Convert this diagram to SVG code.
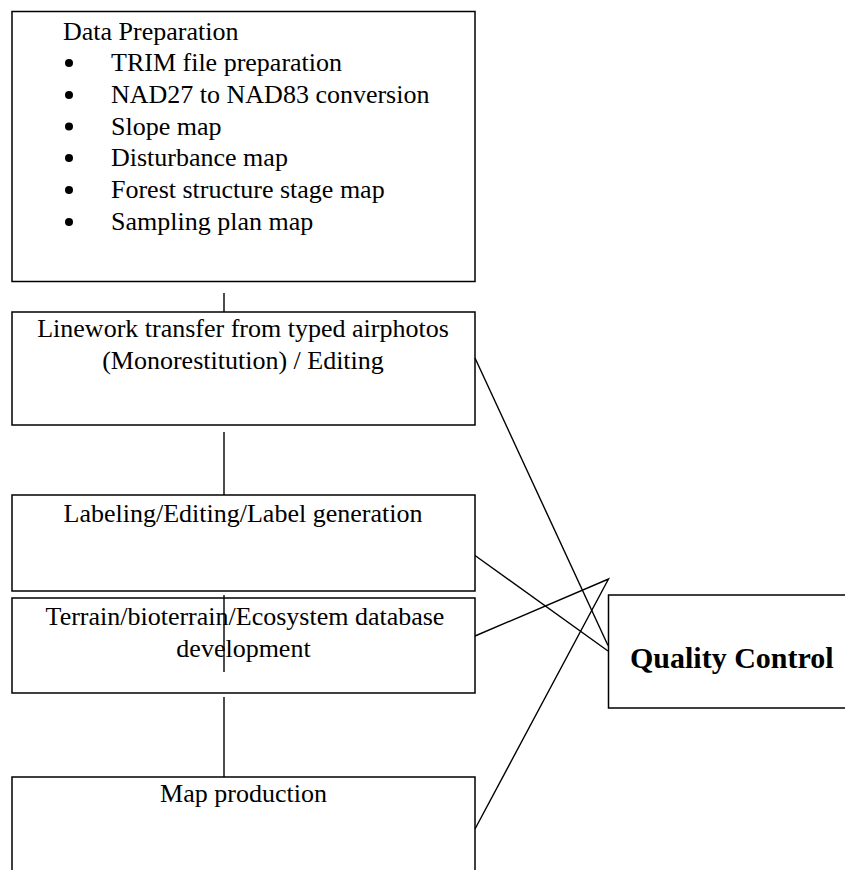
<svg xmlns="http://www.w3.org/2000/svg" width="845" height="870" viewBox="0 0 845 870">
<style>
.box{fill:#fff;stroke:#000;stroke-width:1.5}
.t{font-family:"Liberation Serif","Times New Roman",serif;font-size:26px;fill:#000}
.c{text-anchor:middle}
.b{font-weight:bold;font-size:30px}
.ln{stroke:#000;stroke-width:1.4;fill:none}
</style>
<rect width="845" height="870" fill="#fff"/>
<g id="data-preparation">
<rect class="box" x="12" y="11.5" width="463" height="270"/>
<text class="t" x="63" y="39.5">Data Preparation</text>
<g fill="#000">
<circle cx="69" cy="63" r="4"/>
<circle cx="69" cy="95" r="4"/>
<circle cx="69" cy="126.5" r="4"/>
<circle cx="69" cy="158" r="4"/>
<circle cx="69" cy="190" r="4"/>
<circle cx="69" cy="222" r="4"/>
</g>
<text class="t" x="111" y="71">TRIM file preparation</text>
<text class="t" x="111" y="103">NAD27 to NAD83 conversion</text>
<text class="t" x="111" y="134.5">Slope map</text>
<text class="t" x="111" y="166">Disturbance map</text>
<text class="t" x="111" y="198">Forest structure stage map</text>
<text class="t" x="111" y="230">Sampling plan map</text>
</g>
<g id="linework-transfer">
<rect class="box" x="12" y="312" width="463" height="113"/>
<text class="t c" x="243" y="337">Linework transfer from typed airphotos</text>
<text class="t c" x="243" y="368.5">(Monorestitution) / Editing</text>
</g>
<g id="labeling">
<rect class="box" x="12" y="495" width="463" height="96"/>
<text class="t c" x="243" y="522">Labeling/Editing/Label generation</text>
</g>
<g id="database">
<rect class="box" x="12" y="598" width="463" height="95"/>
<text class="t c" x="245" y="624.5">Terrain/bioterrain/Ecosystem database</text>
<text class="t c" x="243.5" y="657">development</text>
</g>
<g id="map-production">
<rect class="box" x="12" y="777" width="463" height="110"/>
<text class="t c" x="243.5" y="802">Map production</text>
</g>
<g id="quality-control">
<rect class="box" x="608.5" y="595" width="250" height="113"/>
<text class="t b" x="630" y="668">Quality Control</text>
</g>
<g id="connectors">
<line class="ln" x1="224" y1="293" x2="224" y2="312"/>
<line class="ln" x1="224" y1="432" x2="224" y2="495"/>
<line class="ln" x1="224" y1="595" x2="224" y2="672"/>
<line class="ln" x1="224" y1="697" x2="224" y2="777"/>
<line class="ln" x1="475" y1="358" x2="608" y2="645.5"/>
<line class="ln" x1="475" y1="555.5" x2="608" y2="651"/>
<polyline class="ln" points="475,636 608.5,579 475,829"/>
</g>
</svg>
